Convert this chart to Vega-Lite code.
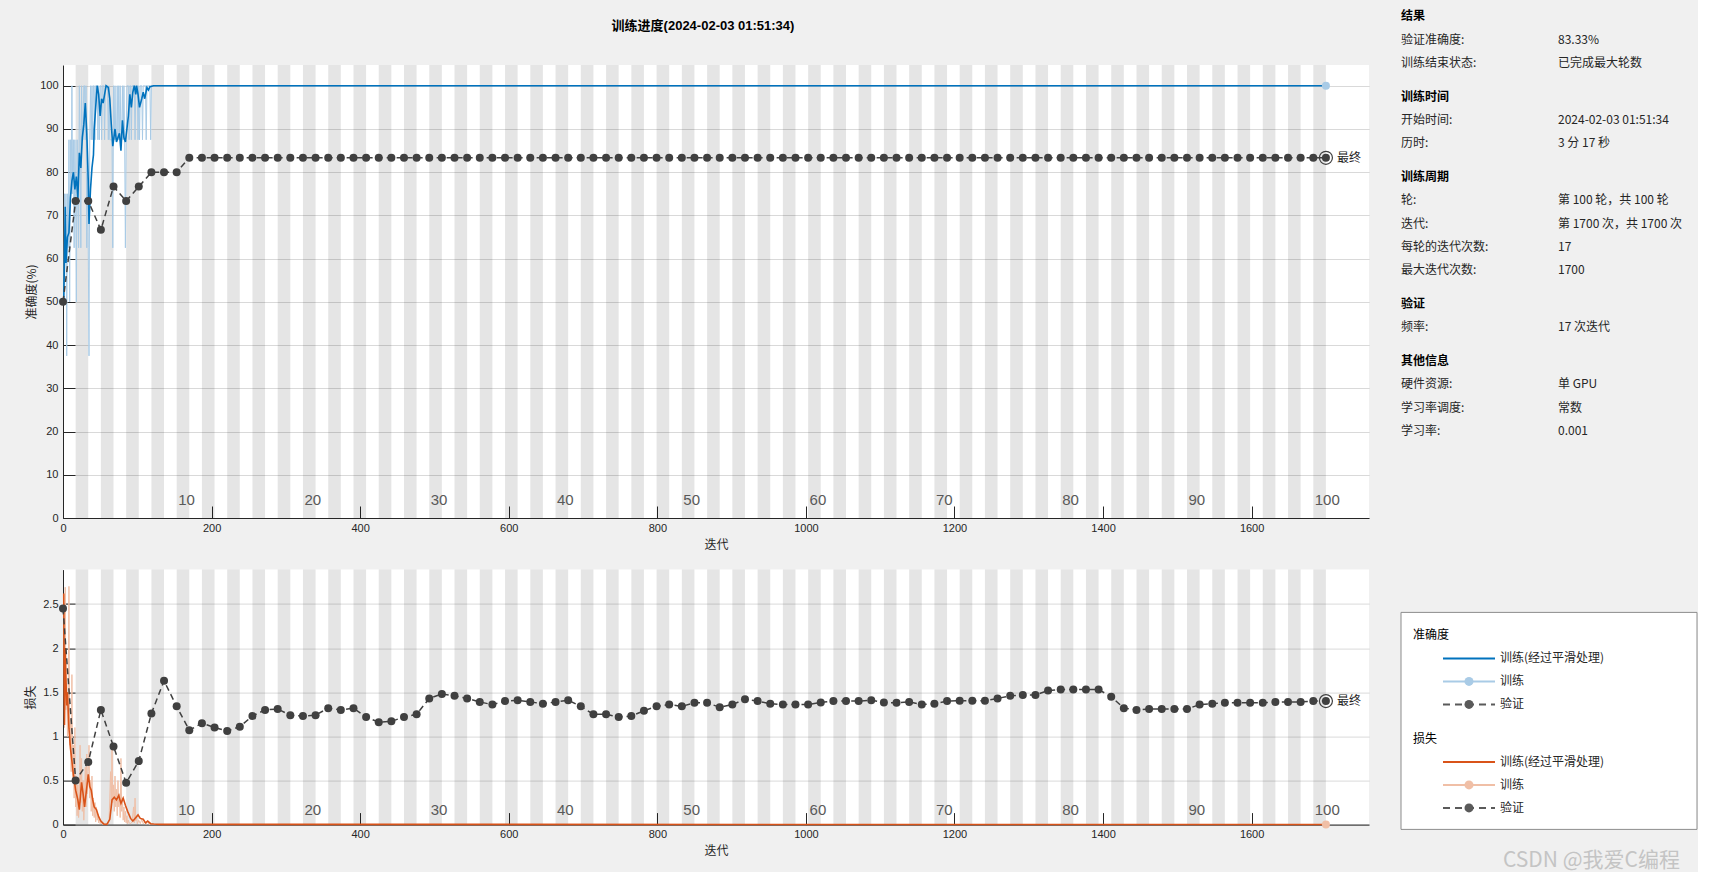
{
  "$schema": "https://vega.github.io/schema/vega-lite/v6.json",
  "background": "#f0f0f0",
  "padding": {"left": 24, "top": 10, "right": 0, "bottom": 0},
  "config": {
    "font": "Liberation Sans, Noto Sans CJK SC",
    "view": {"stroke": null},
    "axis": {
      "domainColor": "#262626", "domainWidth": 1,
      "tickColor": "#262626", "tickWidth": 1,
      "labelColor": "#262626", "labelFontSize": 11, "labelFont": "Liberation Sans",
      "titleColor": "#262626", "titleFontSize": 12, "titleFontWeight": "normal", "titleFont": "Noto Sans CJK SC",
      "gridColor": "#000000", "gridOpacity": 0.15, "labelFlush": false
    }
  },
  "datasets": {
    "bands": [{"s":17,"e":34},{"s":51,"e":68},{"s":85,"e":102},{"s":119,"e":136},{"s":153,"e":170},{"s":187,"e":204},{"s":221,"e":238},{"s":255,"e":272},{"s":289,"e":306},{"s":323,"e":340},{"s":357,"e":374},{"s":391,"e":408},{"s":425,"e":442},{"s":459,"e":476},{"s":493,"e":510},{"s":527,"e":544},{"s":561,"e":578},{"s":595,"e":612},{"s":629,"e":646},{"s":663,"e":680},{"s":697,"e":714},{"s":731,"e":748},{"s":765,"e":782},{"s":799,"e":816},{"s":833,"e":850},{"s":867,"e":884},{"s":901,"e":918},{"s":935,"e":952},{"s":969,"e":986},{"s":1003,"e":1020},{"s":1037,"e":1054},{"s":1071,"e":1088},{"s":1105,"e":1122},{"s":1139,"e":1156},{"s":1173,"e":1190},{"s":1207,"e":1224},{"s":1241,"e":1258},{"s":1275,"e":1292},{"s":1309,"e":1326},{"s":1343,"e":1360},{"s":1377,"e":1394},{"s":1411,"e":1428},{"s":1445,"e":1462},{"s":1479,"e":1496},{"s":1513,"e":1530},{"s":1547,"e":1564},{"s":1581,"e":1598},{"s":1615,"e":1632},{"s":1649,"e":1666},{"s":1683,"e":1700}],
    "epochs": [{"ep":"10","i":155},{"ep":"20","i":325},{"ep":"30","i":495},{"ep":"40","i":665},{"ep":"50","i":835},{"ep":"60","i":1005},{"ep":"70","i":1175},{"ep":"80","i":1345},{"ep":"90","i":1515},{"ep":"100","i":1685}],
    "accSmooth": [{"i":1,"v":50},{"i":2,"v":60},{"i":3,"v":72},{"i":4,"v":59},{"i":6,"v":65},{"i":8,"v":66},{"i":10,"v":74},{"i":12,"v":78},{"i":14,"v":80},{"i":16,"v":76},{"i":18,"v":79},{"i":20,"v":74},{"i":22,"v":84.5},{"i":24,"v":81},{"i":26,"v":88},{"i":28,"v":91},{"i":30,"v":96},{"i":32,"v":89},{"i":34,"v":78},{"i":35,"v":68},{"i":37,"v":76},{"i":39,"v":81},{"i":41,"v":84},{"i":42,"v":90},{"i":44,"v":95},{"i":46,"v":100},{"i":48,"v":98},{"i":50,"v":93},{"i":52,"v":97},{"i":54,"v":96},{"i":56,"v":98},{"i":58,"v":100},{"i":61,"v":99.6},{"i":63,"v":97},{"i":65,"v":91},{"i":67,"v":86},{"i":70,"v":90},{"i":72,"v":87},{"i":74,"v":88},{"i":76,"v":89},{"i":78,"v":85},{"i":80,"v":92},{"i":82,"v":88},{"i":84,"v":87},{"i":86,"v":90},{"i":88,"v":93},{"i":90,"v":98},{"i":92,"v":95},{"i":94,"v":98.5},{"i":96,"v":100},{"i":98,"v":98},{"i":99,"v":100},{"i":101,"v":98},{"i":103,"v":95},{"i":106,"v":97},{"i":108,"v":98.5},{"i":110,"v":97},{"i":113,"v":99.6},{"i":115,"v":99},{"i":117,"v":99.8},{"i":122,"v":100},{"i":1700,"v":100}],
    "accRaw": [{"i":1,"v":50},{"i":2,"v":75},{"i":3,"v":62.5},{"i":4,"v":75},{"i":5,"v":37.5},{"i":6,"v":75},{"i":7,"v":62.5},{"i":8,"v":87.5},{"i":9,"v":50},{"i":10,"v":87.5},{"i":11,"v":75},{"i":12,"v":100},{"i":13,"v":75},{"i":14,"v":87.5},{"i":15,"v":62.5},{"i":16,"v":87.5},{"i":17,"v":75},{"i":18,"v":50},{"i":19,"v":87.5},{"i":20,"v":75},{"i":21,"v":62.5},{"i":22,"v":100},{"i":23,"v":87.5},{"i":24,"v":62.5},{"i":25,"v":100},{"i":26,"v":87.5},{"i":27,"v":87.5},{"i":28,"v":100},{"i":29,"v":100},{"i":30,"v":87.5},{"i":31,"v":100},{"i":32,"v":62.5},{"i":33,"v":87.5},{"i":34,"v":62.5},{"i":35,"v":37.5},{"i":36,"v":87.5},{"i":37,"v":100},{"i":38,"v":87.5},{"i":39,"v":100},{"i":40,"v":87.5},{"i":41,"v":100},{"i":42,"v":100},{"i":43,"v":87.5},{"i":44,"v":100},{"i":45,"v":100},{"i":46,"v":100},{"i":47,"v":87.5},{"i":48,"v":100},{"i":49,"v":87.5},{"i":50,"v":100},{"i":51,"v":100},{"i":52,"v":87.5},{"i":53,"v":100},{"i":54,"v":100},{"i":55,"v":100},{"i":56,"v":87.5},{"i":57,"v":100},{"i":58,"v":100},{"i":59,"v":100},{"i":60,"v":100},{"i":61,"v":87.5},{"i":62,"v":100},{"i":63,"v":87.5},{"i":64,"v":87.5},{"i":65,"v":87.5},{"i":66,"v":87.5},{"i":67,"v":62.5},{"i":68,"v":100},{"i":69,"v":87.5},{"i":70,"v":100},{"i":71,"v":87.5},{"i":72,"v":87.5},{"i":73,"v":100},{"i":74,"v":87.5},{"i":75,"v":100},{"i":76,"v":87.5},{"i":77,"v":100},{"i":78,"v":87.5},{"i":79,"v":87.5},{"i":80,"v":100},{"i":81,"v":87.5},{"i":82,"v":100},{"i":83,"v":87.5},{"i":84,"v":62.5},{"i":85,"v":87.5},{"i":86,"v":100},{"i":87,"v":100},{"i":88,"v":100},{"i":89,"v":87.5},{"i":90,"v":100},{"i":91,"v":100},{"i":92,"v":87.5},{"i":93,"v":100},{"i":94,"v":100},{"i":95,"v":100},{"i":96,"v":100},{"i":97,"v":87.5},{"i":98,"v":100},{"i":99,"v":100},{"i":100,"v":100},{"i":101,"v":87.5},{"i":102,"v":100},{"i":103,"v":87.5},{"i":104,"v":100},{"i":105,"v":100},{"i":106,"v":100},{"i":107,"v":87.5},{"i":108,"v":100},{"i":109,"v":100},{"i":110,"v":100},{"i":111,"v":100},{"i":112,"v":87.5},{"i":113,"v":100},{"i":114,"v":100},{"i":115,"v":100},{"i":116,"v":100},{"i":117,"v":100},{"i":118,"v":87.5},{"i":119,"v":100},{"i":1700,"v":100}],
    "accVal": [{"i":0,"v":50},{"i":17,"v":73.33},{"i":34,"v":73.33},{"i":51,"v":66.67},{"i":68,"v":76.67},{"i":85,"v":73.33},{"i":102,"v":76.67},{"i":119,"v":80},{"i":136,"v":80},{"i":153,"v":80},{"i":170,"v":83.33},{"i":187,"v":83.33},{"i":204,"v":83.33},{"i":221,"v":83.33},{"i":238,"v":83.33},{"i":255,"v":83.33},{"i":272,"v":83.33},{"i":289,"v":83.33},{"i":306,"v":83.33},{"i":323,"v":83.33},{"i":340,"v":83.33},{"i":357,"v":83.33},{"i":374,"v":83.33},{"i":391,"v":83.33},{"i":408,"v":83.33},{"i":425,"v":83.33},{"i":442,"v":83.33},{"i":459,"v":83.33},{"i":476,"v":83.33},{"i":493,"v":83.33},{"i":510,"v":83.33},{"i":527,"v":83.33},{"i":544,"v":83.33},{"i":561,"v":83.33},{"i":578,"v":83.33},{"i":595,"v":83.33},{"i":612,"v":83.33},{"i":629,"v":83.33},{"i":646,"v":83.33},{"i":663,"v":83.33},{"i":680,"v":83.33},{"i":697,"v":83.33},{"i":714,"v":83.33},{"i":731,"v":83.33},{"i":748,"v":83.33},{"i":765,"v":83.33},{"i":782,"v":83.33},{"i":799,"v":83.33},{"i":816,"v":83.33},{"i":833,"v":83.33},{"i":850,"v":83.33},{"i":867,"v":83.33},{"i":884,"v":83.33},{"i":901,"v":83.33},{"i":918,"v":83.33},{"i":935,"v":83.33},{"i":952,"v":83.33},{"i":969,"v":83.33},{"i":986,"v":83.33},{"i":1003,"v":83.33},{"i":1020,"v":83.33},{"i":1037,"v":83.33},{"i":1054,"v":83.33},{"i":1071,"v":83.33},{"i":1088,"v":83.33},{"i":1105,"v":83.33},{"i":1122,"v":83.33},{"i":1139,"v":83.33},{"i":1156,"v":83.33},{"i":1173,"v":83.33},{"i":1190,"v":83.33},{"i":1207,"v":83.33},{"i":1224,"v":83.33},{"i":1241,"v":83.33},{"i":1258,"v":83.33},{"i":1275,"v":83.33},{"i":1292,"v":83.33},{"i":1309,"v":83.33},{"i":1326,"v":83.33},{"i":1343,"v":83.33},{"i":1360,"v":83.33},{"i":1377,"v":83.33},{"i":1394,"v":83.33},{"i":1411,"v":83.33},{"i":1428,"v":83.33},{"i":1445,"v":83.33},{"i":1462,"v":83.33},{"i":1479,"v":83.33},{"i":1496,"v":83.33},{"i":1513,"v":83.33},{"i":1530,"v":83.33},{"i":1547,"v":83.33},{"i":1564,"v":83.33},{"i":1581,"v":83.33},{"i":1598,"v":83.33},{"i":1615,"v":83.33},{"i":1632,"v":83.33},{"i":1649,"v":83.33},{"i":1666,"v":83.33},{"i":1683,"v":83.33},{"i":1700,"v":83.33}],
    "lossSmooth": [{"i":1,"v":2.62},{"i":2,"v":1.13},{"i":3,"v":2.0},{"i":4,"v":1.65},{"i":5,"v":1.35},{"i":6,"v":1.5},{"i":8,"v":1.09},{"i":10,"v":0.87},{"i":12,"v":0.72},{"i":14,"v":0.57},{"i":17,"v":0.39},{"i":20,"v":0.28},{"i":22,"v":0.17},{"i":25,"v":0.48},{"i":27,"v":0.35},{"i":29,"v":0.2},{"i":31,"v":0.35},{"i":34,"v":0.57},{"i":36,"v":0.43},{"i":38,"v":0.39},{"i":40,"v":0.28},{"i":42,"v":0.2},{"i":45,"v":0.17},{"i":48,"v":0.09},{"i":51,"v":0.04},{"i":55,"v":0.005},{"i":59,"v":0.003},{"i":63,"v":0.06},{"i":66,"v":0.28},{"i":69,"v":0.31},{"i":72,"v":0.28},{"i":75,"v":0.33},{"i":78,"v":0.24},{"i":81,"v":0.3},{"i":84,"v":0.22},{"i":87,"v":0.15},{"i":91,"v":0.07},{"i":94,"v":0.04},{"i":97,"v":0.07},{"i":101,"v":0.11},{"i":104,"v":0.07},{"i":108,"v":0.06},{"i":111,"v":0.02},{"i":114,"v":0.04},{"i":118,"v":0.01},{"i":122,"v":0.007},{"i":130,"v":0.003},{"i":1700,"v":0.001}],
    "lossRaw": [{"i":1,"v":2.6},{"i":2,"v":1.1},{"i":3,"v":2.69},{"i":4,"v":1.3},{"i":5,"v":1.6},{"i":6,"v":1.0},{"i":7,"v":1.4},{"i":8,"v":2.7},{"i":9,"v":0.9},{"i":10,"v":1.2},{"i":11,"v":0.6},{"i":12,"v":1.7},{"i":13,"v":0.5},{"i":14,"v":0.9},{"i":15,"v":0.3},{"i":16,"v":1.1},{"i":17,"v":0.2},{"i":18,"v":0.55},{"i":19,"v":0.1},{"i":20,"v":0.45},{"i":21,"v":0.08},{"i":22,"v":0.3},{"i":23,"v":0.9},{"i":24,"v":0.25},{"i":25,"v":0.75},{"i":26,"v":0.15},{"i":27,"v":0.5},{"i":28,"v":0.05},{"i":29,"v":0.3},{"i":30,"v":0.65},{"i":31,"v":0.2},{"i":32,"v":0.8},{"i":33,"v":0.35},{"i":34,"v":0.6},{"i":35,"v":0.9},{"i":36,"v":0.3},{"i":37,"v":0.5},{"i":38,"v":0.15},{"i":39,"v":0.55},{"i":40,"v":0.1},{"i":41,"v":0.3},{"i":42,"v":0.08},{"i":43,"v":0.25},{"i":44,"v":0.03},{"i":45,"v":0.2},{"i":46,"v":0.05},{"i":47,"v":0.12},{"i":48,"v":0.02},{"i":49,"v":0.08},{"i":50,"v":0.01},{"i":51,"v":0.04},{"i":53,"v":0.005},{"i":56,"v":0.002},{"i":59,"v":0.004},{"i":61,"v":0.01},{"i":62,"v":0.05},{"i":63,"v":0.3},{"i":64,"v":0.6},{"i":65,"v":0.2},{"i":66,"v":0.9},{"i":67,"v":0.25},{"i":68,"v":0.45},{"i":69,"v":0.15},{"i":70,"v":0.55},{"i":71,"v":0.2},{"i":72,"v":0.4},{"i":73,"v":0.1},{"i":74,"v":0.5},{"i":75,"v":0.2},{"i":76,"v":0.35},{"i":77,"v":0.08},{"i":78,"v":0.75},{"i":79,"v":0.15},{"i":80,"v":0.3},{"i":81,"v":0.05},{"i":82,"v":0.2},{"i":83,"v":0.03},{"i":84,"v":0.15},{"i":85,"v":0.02},{"i":86,"v":0.1},{"i":87,"v":0.01},{"i":88,"v":0.05},{"i":89,"v":0.02},{"i":91,"v":0.01},{"i":93,"v":0.03},{"i":95,"v":0.2},{"i":96,"v":0.02},{"i":97,"v":0.3},{"i":98,"v":0.04},{"i":99,"v":0.1},{"i":100,"v":0.01},{"i":102,"v":0.05},{"i":104,"v":0.01},{"i":106,"v":0.06},{"i":108,"v":0.01},{"i":110,"v":0.03},{"i":112,"v":0.004},{"i":114,"v":0.04},{"i":116,"v":0.003},{"i":119,"v":0.01},{"i":123,"v":0.002},{"i":130,"v":0.001},{"i":1700,"v":0.001}],
    "lossVal": [{"i":0,"v":2.45},{"i":17,"v":0.5},{"i":34,"v":0.71},{"i":51,"v":1.3},{"i":68,"v":0.885},{"i":85,"v":0.474},{"i":102,"v":0.72},{"i":119,"v":1.26},{"i":136,"v":1.63},{"i":153,"v":1.34},{"i":170,"v":1.07},{"i":187,"v":1.15},{"i":204,"v":1.1},{"i":221,"v":1.06},{"i":238,"v":1.11},{"i":255,"v":1.23},{"i":272,"v":1.3},{"i":289,"v":1.31},{"i":306,"v":1.24},{"i":323,"v":1.23},{"i":340,"v":1.24},{"i":357,"v":1.32},{"i":374,"v":1.3},{"i":391,"v":1.32},{"i":408,"v":1.22},{"i":425,"v":1.16},{"i":442,"v":1.17},{"i":459,"v":1.22},{"i":476,"v":1.25},{"i":493,"v":1.43},{"i":510,"v":1.48},{"i":527,"v":1.46},{"i":544,"v":1.43},{"i":561,"v":1.39},{"i":578,"v":1.36},{"i":595,"v":1.4},{"i":612,"v":1.41},{"i":629,"v":1.39},{"i":646,"v":1.37},{"i":663,"v":1.39},{"i":680,"v":1.41},{"i":697,"v":1.34},{"i":714,"v":1.25},{"i":731,"v":1.25},{"i":748,"v":1.22},{"i":765,"v":1.23},{"i":782,"v":1.29},{"i":799,"v":1.34},{"i":816,"v":1.36},{"i":833,"v":1.34},{"i":850,"v":1.38},{"i":867,"v":1.38},{"i":884,"v":1.33},{"i":901,"v":1.36},{"i":918,"v":1.42},{"i":935,"v":1.4},{"i":952,"v":1.37},{"i":969,"v":1.36},{"i":986,"v":1.36},{"i":1003,"v":1.36},{"i":1020,"v":1.385},{"i":1037,"v":1.4},{"i":1054,"v":1.4},{"i":1071,"v":1.4},{"i":1088,"v":1.41},{"i":1105,"v":1.385},{"i":1122,"v":1.38},{"i":1139,"v":1.39},{"i":1156,"v":1.36},{"i":1173,"v":1.37},{"i":1190,"v":1.4},{"i":1207,"v":1.405},{"i":1224,"v":1.405},{"i":1241,"v":1.405},{"i":1258,"v":1.43},{"i":1275,"v":1.46},{"i":1292,"v":1.47},{"i":1309,"v":1.47},{"i":1326,"v":1.52},{"i":1343,"v":1.53},{"i":1360,"v":1.53},{"i":1377,"v":1.53},{"i":1394,"v":1.53},{"i":1411,"v":1.45},{"i":1428,"v":1.32},{"i":1445,"v":1.3},{"i":1462,"v":1.31},{"i":1479,"v":1.31},{"i":1496,"v":1.31},{"i":1513,"v":1.31},{"i":1530,"v":1.36},{"i":1547,"v":1.37},{"i":1564,"v":1.38},{"i":1581,"v":1.38},{"i":1598,"v":1.38},{"i":1615,"v":1.38},{"i":1632,"v":1.39},{"i":1649,"v":1.39},{"i":1666,"v":1.39},{"i":1683,"v":1.4},{"i":1700,"v":1.4}],
    "info": [{"line":0,"label":"结果","value":"","head":1},{"line":1,"label":"验证准确度:","value":"83.33%","head":0},{"line":2,"label":"训练结束状态:","value":"已完成最大轮数","head":0},{"line":3.45,"label":"训练时间","value":"","head":1},{"line":4.45,"label":"开始时间:","value":"2024-02-03 01:51:34","head":0},{"line":5.45,"label":"历时:","value":"3 分 17 秒","head":0},{"line":6.9,"label":"训练周期","value":"","head":1},{"line":7.9,"label":"轮:","value":"第 100 轮，共 100 轮","head":0},{"line":8.9,"label":"迭代:","value":"第 1700 次，共 1700 次","head":0},{"line":9.9,"label":"每轮的迭代次数:","value":"17","head":0},{"line":10.9,"label":"最大迭代次数:","value":"1700","head":0},{"line":12.35,"label":"验证","value":"","head":1},{"line":13.35,"label":"频率:","value":"17 次迭代","head":0},{"line":14.8,"label":"其他信息","value":"","head":1},{"line":15.8,"label":"硬件资源:","value":"单 GPU","head":0},{"line":16.8,"label":"学习率调度:","value":"常数","head":0},{"line":17.8,"label":"学习率:","value":"0.001","head":0}],
    "legend": [{"row":0,"text":"准确度","kind":"head","key":"head"},{"row":1,"text":"训练(经过平滑处理)","kind":"smooth","key":"acc_smooth"},{"row":2,"text":"训练","kind":"raw","key":"acc_raw"},{"row":3,"text":"验证","kind":"val","key":"acc_val"},{"row":4.5,"text":"损失","kind":"head","key":"head"},{"row":5.5,"text":"训练(经过平滑处理)","kind":"smooth","key":"loss_smooth"},{"row":6.5,"text":"训练","kind":"raw","key":"loss_raw"},{"row":7.5,"text":"验证","kind":"val","key":"loss_val"}]
  },
  "columns": 2,
  "bounds": "flush",
  "spacing": {"row": 51.6, "column": 32},
  "concat": [
    {
      "width": 1306, "height": 453,
      "view": {"fill": "white", "stroke": null},
      "title": {"text": "训练进度(2024-02-03 01:51:34)", "anchor": "middle", "fontSize": 13, "fontWeight": "bold", "color": "#000000", "font": "Liberation Sans, Noto Sans CJK SC", "offset": 32, "dx": -13},
      "layer": [
        {"data": {"name": "bands"}, "mark": {"type": "rect", "fill": "#000000", "fillOpacity": 0.1},
         "encoding": {"x": {"field": "s", "type": "quantitative", "scale": {"domain": [0, 1758], "nice": false, "zero": false},
           "axis": {"values": [0,200,400,600,800,1000,1200,1400,1600], "format": "d", "title": "迭代", "grid": false, "tickSize": -12, "labelPadding": 16, "titlePadding": 6}},
           "x2": {"field": "e"}}},
        {"data": {"name": "accRaw"}, "mark": {"type": "line", "color": "#A9CBE6", "strokeWidth": 1},
         "encoding": {"x": {"field": "i", "type": "quantitative"}, "y": {"field": "v", "type": "quantitative", "scale": {"domain": [0, 104.8], "nice": false},
           "axis": {"values": [0,10,20,30,40,50,60,70,80,90,100], "format": "d", "title": "准确度(%)", "grid": true, "tickSize": -12, "labelPadding": 17, "titlePadding": 1}}}},
        {"data": {"name": "accSmooth"}, "mark": {"type": "line", "color": "#0072BD", "strokeWidth": 1.6},
         "encoding": {"x": {"field": "i", "type": "quantitative"}, "y": {"field": "v", "type": "quantitative"}}},
        {"data": {"name": "accVal"}, "mark": {"type": "line", "color": "#404040", "strokeWidth": 1.5, "strokeDash": [6, 4]},
         "encoding": {"x": {"field": "i", "type": "quantitative"}, "y": {"field": "v", "type": "quantitative"}}},
        {"data": {"name": "accVal"}, "mark": {"type": "point", "filled": true, "color": "#404040", "size": 64, "opacity": 1},
         "encoding": {"x": {"field": "i", "type": "quantitative"}, "y": {"field": "v", "type": "quantitative"}}},
        {"data": {"name": "accVal"}, "transform": [{"filter": "datum.i == 1700"}], "mark": {"type": "point", "filled": false, "color": "#404040", "size": 170, "strokeWidth": 1.2, "opacity": 1},
         "encoding": {"x": {"field": "i", "type": "quantitative"}, "y": {"field": "v", "type": "quantitative"}}},
        {"data": {"name": "accVal"}, "transform": [{"filter": "datum.i == 1700"}], "mark": {"type": "text", "text": "最终", "align": "left", "baseline": "middle", "dx": 11, "fontSize": 12, "font": "Noto Sans CJK SC", "color": "#262626"},
         "encoding": {"x": {"field": "i", "type": "quantitative"}, "y": {"field": "v", "type": "quantitative"}}},
        {"data": {"name": "accRaw"}, "transform": [{"filter": "datum.i == 1700"}], "mark": {"type": "point", "filled": true, "color": "#A9CBE6", "size": 64, "opacity": 1},
         "encoding": {"x": {"field": "i", "type": "quantitative"}, "y": {"field": "v", "type": "quantitative"}}},
        {"data": {"name": "epochs"}, "mark": {"type": "text", "align": "left", "baseline": "middle", "fontSize": 15, "color": "#595959", "font": "Liberation Sans"},
         "encoding": {"x": {"field": "i", "type": "quantitative"}, "y": {"datum": 4.1, "type": "quantitative"}, "text": {"field": "ep"}}}
      ]
    },
    {
      "width": 296, "height": 453,
      "view": {"fill": null, "stroke": null},
      "data": {"name": "info"},
      "encoding": {"y": {"field": "line", "type": "quantitative", "scale": {"domain": [2.09, 21.53], "reverse": true, "nice": false, "zero": false}, "axis": null}},
      "layer": [
        {"transform": [{"filter": "datum.head == 1"}], "mark": {"type": "text", "align": "left", "baseline": "middle", "fontSize": 12, "fontWeight": "bold", "font": "Noto Sans CJK SC", "color": "#000000"},
         "encoding": {"x": {"datum": 0, "type": "quantitative", "scale": {"domain": [0, 29.6], "nice": false, "zero": false}, "axis": null}, "text": {"field": "label"}}},
        {"transform": [{"filter": "datum.head == 0"}], "mark": {"type": "text", "align": "left", "baseline": "middle", "fontSize": 12, "font": "Noto Sans CJK SC", "color": "#262626"},
         "encoding": {"x": {"datum": 0, "type": "quantitative"}, "text": {"field": "label"}}},
        {"transform": [{"filter": "datum.head == 0"}], "mark": {"type": "text", "align": "left", "baseline": "middle", "fontSize": 12, "font": "Noto Sans CJK SC", "color": "#262626"},
         "encoding": {"x": {"datum": 15.7, "type": "quantitative"}, "text": {"field": "value"}}}
      ]
    },
    {
      "width": 1306, "height": 255,
      "view": {"fill": "white", "stroke": null},
      "layer": [
        {"data": {"name": "bands"}, "mark": {"type": "rect", "fill": "#000000", "fillOpacity": 0.1},
         "encoding": {"x": {"field": "s", "type": "quantitative", "scale": {"domain": [0, 1758], "nice": false, "zero": false},
           "axis": {"values": [0,200,400,600,800,1000,1200,1400,1600], "format": "d", "title": "迭代", "grid": false, "tickSize": -12, "labelPadding": 16, "titlePadding": 6}},
           "x2": {"field": "e"}}},
        {"data": {"name": "lossRaw"}, "mark": {"type": "line", "color": "#F0BFA6", "strokeWidth": 1},
         "encoding": {"x": {"field": "i", "type": "quantitative"}, "y": {"field": "v", "type": "quantitative", "scale": {"domain": [0, 2.89], "nice": false},
           "axis": {"values": [0,0.5,1,1.5,2,2.5], "format": "~g", "title": "损失", "grid": true, "tickSize": -12, "labelPadding": 17, "titlePadding": 5}}}},
        {"data": {"name": "lossSmooth"}, "mark": {"type": "line", "color": "#D95319", "strokeWidth": 1.6},
         "encoding": {"x": {"field": "i", "type": "quantitative"}, "y": {"field": "v", "type": "quantitative"}}},
        {"data": {"name": "lossVal"}, "mark": {"type": "line", "color": "#404040", "strokeWidth": 1.5, "strokeDash": [6, 4]},
         "encoding": {"x": {"field": "i", "type": "quantitative"}, "y": {"field": "v", "type": "quantitative"}}},
        {"data": {"name": "lossVal"}, "mark": {"type": "point", "filled": true, "color": "#404040", "size": 64, "opacity": 1},
         "encoding": {"x": {"field": "i", "type": "quantitative"}, "y": {"field": "v", "type": "quantitative"}}},
        {"data": {"name": "lossVal"}, "transform": [{"filter": "datum.i == 1700"}], "mark": {"type": "point", "filled": false, "color": "#404040", "size": 170, "strokeWidth": 1.2, "opacity": 1},
         "encoding": {"x": {"field": "i", "type": "quantitative"}, "y": {"field": "v", "type": "quantitative"}}},
        {"data": {"name": "lossVal"}, "transform": [{"filter": "datum.i == 1700"}], "mark": {"type": "text", "text": "最终", "align": "left", "baseline": "middle", "dx": 11, "fontSize": 12, "font": "Noto Sans CJK SC", "color": "#262626"},
         "encoding": {"x": {"field": "i", "type": "quantitative"}, "y": {"field": "v", "type": "quantitative"}}},
        {"data": {"name": "lossRaw"}, "transform": [{"filter": "datum.i == 1700"}], "mark": {"type": "point", "filled": true, "color": "#F0BFA6", "size": 64, "opacity": 1},
         "encoding": {"x": {"field": "i", "type": "quantitative"}, "y": {"field": "v", "type": "quantitative"}}},
        {"data": {"name": "epochs"}, "mark": {"type": "text", "align": "left", "baseline": "middle", "fontSize": 15, "color": "#595959", "font": "Liberation Sans"},
         "encoding": {"x": {"field": "i", "type": "quantitative"}, "y": {"datum": 0.16, "type": "quantitative"}, "text": {"field": "ep"}}}
      ]
    },
    {
      "width": 296, "height": 259.8,
      "view": {"fill": null, "stroke": null},
      "data": {"name": "legend"},
      "layer": [
        {"data": {"values": [{"frame": "box"}]}, "mark": {"type": "rect", "fill": "white", "stroke": "#8c8c8c", "strokeWidth": 1},
         "encoding": {"x": {"datum": 0, "type": "quantitative", "scale": {"domain": [0, 29.6], "nice": false, "zero": false}, "axis": null}, "x2": {"datum": 29.6},
           "y": {"datum": -1, "type": "quantitative", "scale": {"domain": [-2.861, 8.435], "reverse": true, "nice": false, "zero": false}, "axis": null}, "y2": {"datum": 8.435}}},
        {"transform": [{"filter": "datum.kind == 'head'"}], "mark": {"type": "text", "align": "left", "baseline": "middle", "fontSize": 12, "font": "Noto Sans CJK SC", "color": "#000000"},
         "encoding": {"x": {"datum": 1.2, "type": "quantitative"}, "y": {"field": "row", "type": "quantitative"}, "text": {"field": "text"}}},
        {"transform": [{"filter": "datum.kind != 'head'"}], "mark": {"type": "rule", "strokeWidth": 2},
         "encoding": {"x": {"datum": 4.2, "type": "quantitative"}, "x2": {"datum": 9.4}, "y": {"field": "row", "type": "quantitative"},
           "color": {"field": "key", "type": "nominal", "scale": {"domain": ["acc_smooth","acc_raw","acc_val","loss_smooth","loss_raw","loss_val"], "range": ["#0072BD","#A9CBE6","#5a5a5a","#D95319","#F0BFA6","#5a5a5a"]}, "legend": null},
           "strokeDash": {"field": "kind", "type": "nominal", "scale": {"domain": ["smooth","raw","val"], "range": [[1,0],[1,0],[7,5]]}, "legend": null}}},
        {"transform": [{"filter": "datum.kind == 'raw' || datum.kind == 'val'"}], "mark": {"type": "point", "filled": true, "size": 81, "opacity": 1},
         "encoding": {"x": {"datum": 6.8, "type": "quantitative"}, "y": {"field": "row", "type": "quantitative"},
           "color": {"field": "key", "type": "nominal", "scale": {"domain": ["acc_smooth","acc_raw","acc_val","loss_smooth","loss_raw","loss_val"], "range": ["#0072BD","#B4D3EC","#404040","#D95319","#F4CDB9","#404040"]}, "legend": null}}},
        {"transform": [{"filter": "datum.kind != 'head'"}], "mark": {"type": "text", "align": "left", "baseline": "middle", "fontSize": 12, "font": "Noto Sans CJK SC", "color": "#262626"},
         "encoding": {"x": {"datum": 9.9, "type": "quantitative"}, "y": {"field": "row", "type": "quantitative"}, "text": {"field": "text"}}},
        {"data": {"values": [{"row": 9.83, "text": "CSDN @我爱C编程"}]}, "mark": {"type": "text", "align": "left", "baseline": "middle", "fontSize": 21, "font": "Noto Sans CJK SC", "color": "#c4c4c4"},
         "encoding": {"x": {"datum": 10.2, "type": "quantitative"}, "y": {"field": "row", "type": "quantitative"}, "text": {"field": "text"}}}
      ]
    }
  ]
}
